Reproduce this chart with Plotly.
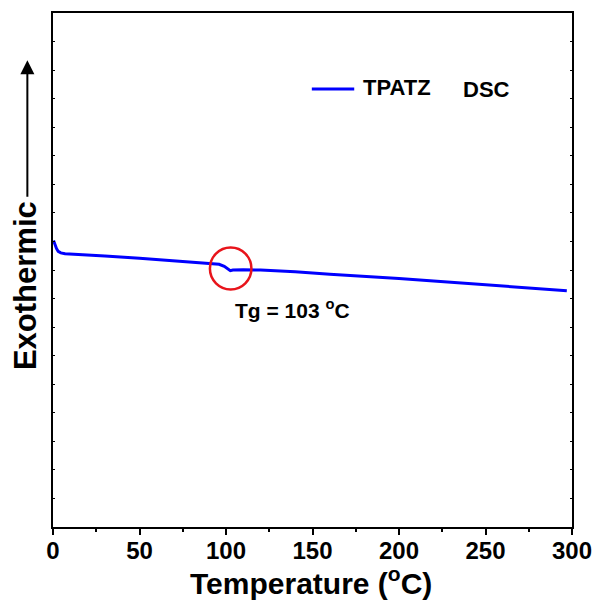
import plotly.graph_objects as go

# DSC curve of TPATZ (temperature in °C, heat flow in arbitrary units, exothermic up)
temperature = [0.3, 1.0, 2.0, 3.0, 4.5, 7, 15, 30, 50, 70, 85, 92, 96, 99, 101, 102.5,
               104, 106, 110, 120, 140, 160, 180, 200, 220, 240, 260, 280, 297]
heat_flow = [10.035, 9.913, 9.756, 9.651, 9.599, 9.571, 9.547, 9.487, 9.414, 9.331,
             9.268, 9.233, 9.198, 9.128, 9.041, 8.978, 8.999, 9.006, 9.013, 8.996,
             8.937, 8.849, 8.780, 8.700, 8.612, 8.525, 8.441, 8.358, 8.274]
series_name = "TPATZ"
tg_value = 103
x_ticks = [0, 50, 100, 150, 200, 250, 300]

FONT = "Liberation Sans, Arial, sans-serif"

fig = go.Figure()
fig.add_trace(go.Scatter(x=temperature, y=heat_flow, mode="lines", name=series_name,
                         line=dict(color="#0000FF", width=3), showlegend=False))

# Tg circle
fig.add_shape(type="circle", xref="x", yref="y", x0=90.7, x1=114.7, y0=8.32, y1=9.784,
              line=dict(color="#E8141B", width=2.5))

# manual legend
fig.add_shape(type="line", xref="paper", yref="paper", x0=0.4987, x1=0.5804, y0=0.852, y1=0.852,
              line=dict(color="#0000FF", width=3))
fig.add_annotation(xref="paper", yref="paper", x=0.5937, y=0.855, xanchor="left", yanchor="middle",
                   text=series_name, showarrow=False,
                   font=dict(family=FONT, size=22, color="black", weight="bold"))
fig.add_annotation(xref="paper", yref="paper", x=0.787, y=0.851, xanchor="left", yanchor="middle",
                   text="DSC", showarrow=False,
                   font=dict(family=FONT, size=22, color="black", weight="bold"))

# Tg label
fig.add_annotation(xref="x", yref="y", x=138.5, y=7.65, xanchor="center", yanchor="middle",
                   text=f"Tg = {tg_value} <sup>o</sup>C", showarrow=False,
                   font=dict(family=FONT, size=21, color="black", weight="bold"))

# y-axis label with arrow
fig.add_annotation(xref="paper", yref="paper", x=-0.0527, y=0.47, xanchor="center", yanchor="middle",
                   text="Exothermic", textangle=-90, showarrow=False,
                   font=dict(family=FONT, size=31, color="black", weight="bold"))
fig.add_annotation(xref="paper", yref="paper", x=-0.0494, y=0.908, ax=0, ay=138,
                   axref="pixel", ayref="pixel", text="", showarrow=True,
                   arrowhead=2, arrowsize=1.4, arrowwidth=2, arrowcolor="black")

# x-axis title
fig.add_annotation(xref="paper", yref="paper", x=0.498, y=-0.106, xanchor="center", yanchor="middle",
                   text="Temperature (<sup>o</sup>C)", showarrow=False,
                   font=dict(family=FONT, size=30, color="black", weight="bold"))

fig.update_layout(
    width=603, height=601,
    margin=dict(l=53, r=24, t=11, b=74),
    plot_bgcolor="white", paper_bgcolor="white",
    font=dict(family=FONT, color="black"),
    xaxis=dict(range=[0, 300], tickvals=x_ticks, ticks="outside", ticklen=6, tickwidth=1.5,
               tickcolor="black", showline=True, linecolor="black", linewidth=1.5, mirror=True,
               showgrid=False, zeroline=False, ticklabelstandoff=-5,
               tickfont=dict(family=FONT, size=24, color="black", weight="bold"),
               minor=dict(dtick=25, ticks="outside", ticklen=3, tickwidth=1.5, tickcolor="black")),
    yaxis=dict(range=[0, 18], dtick=1, ticks="inside", ticklen=2, tickwidth=1,
               tickcolor="black", showline=True, linecolor="black", linewidth=1.5, mirror="ticks",
               showgrid=False, zeroline=False, showticklabels=False),
)

fig.write_html("out.html")
